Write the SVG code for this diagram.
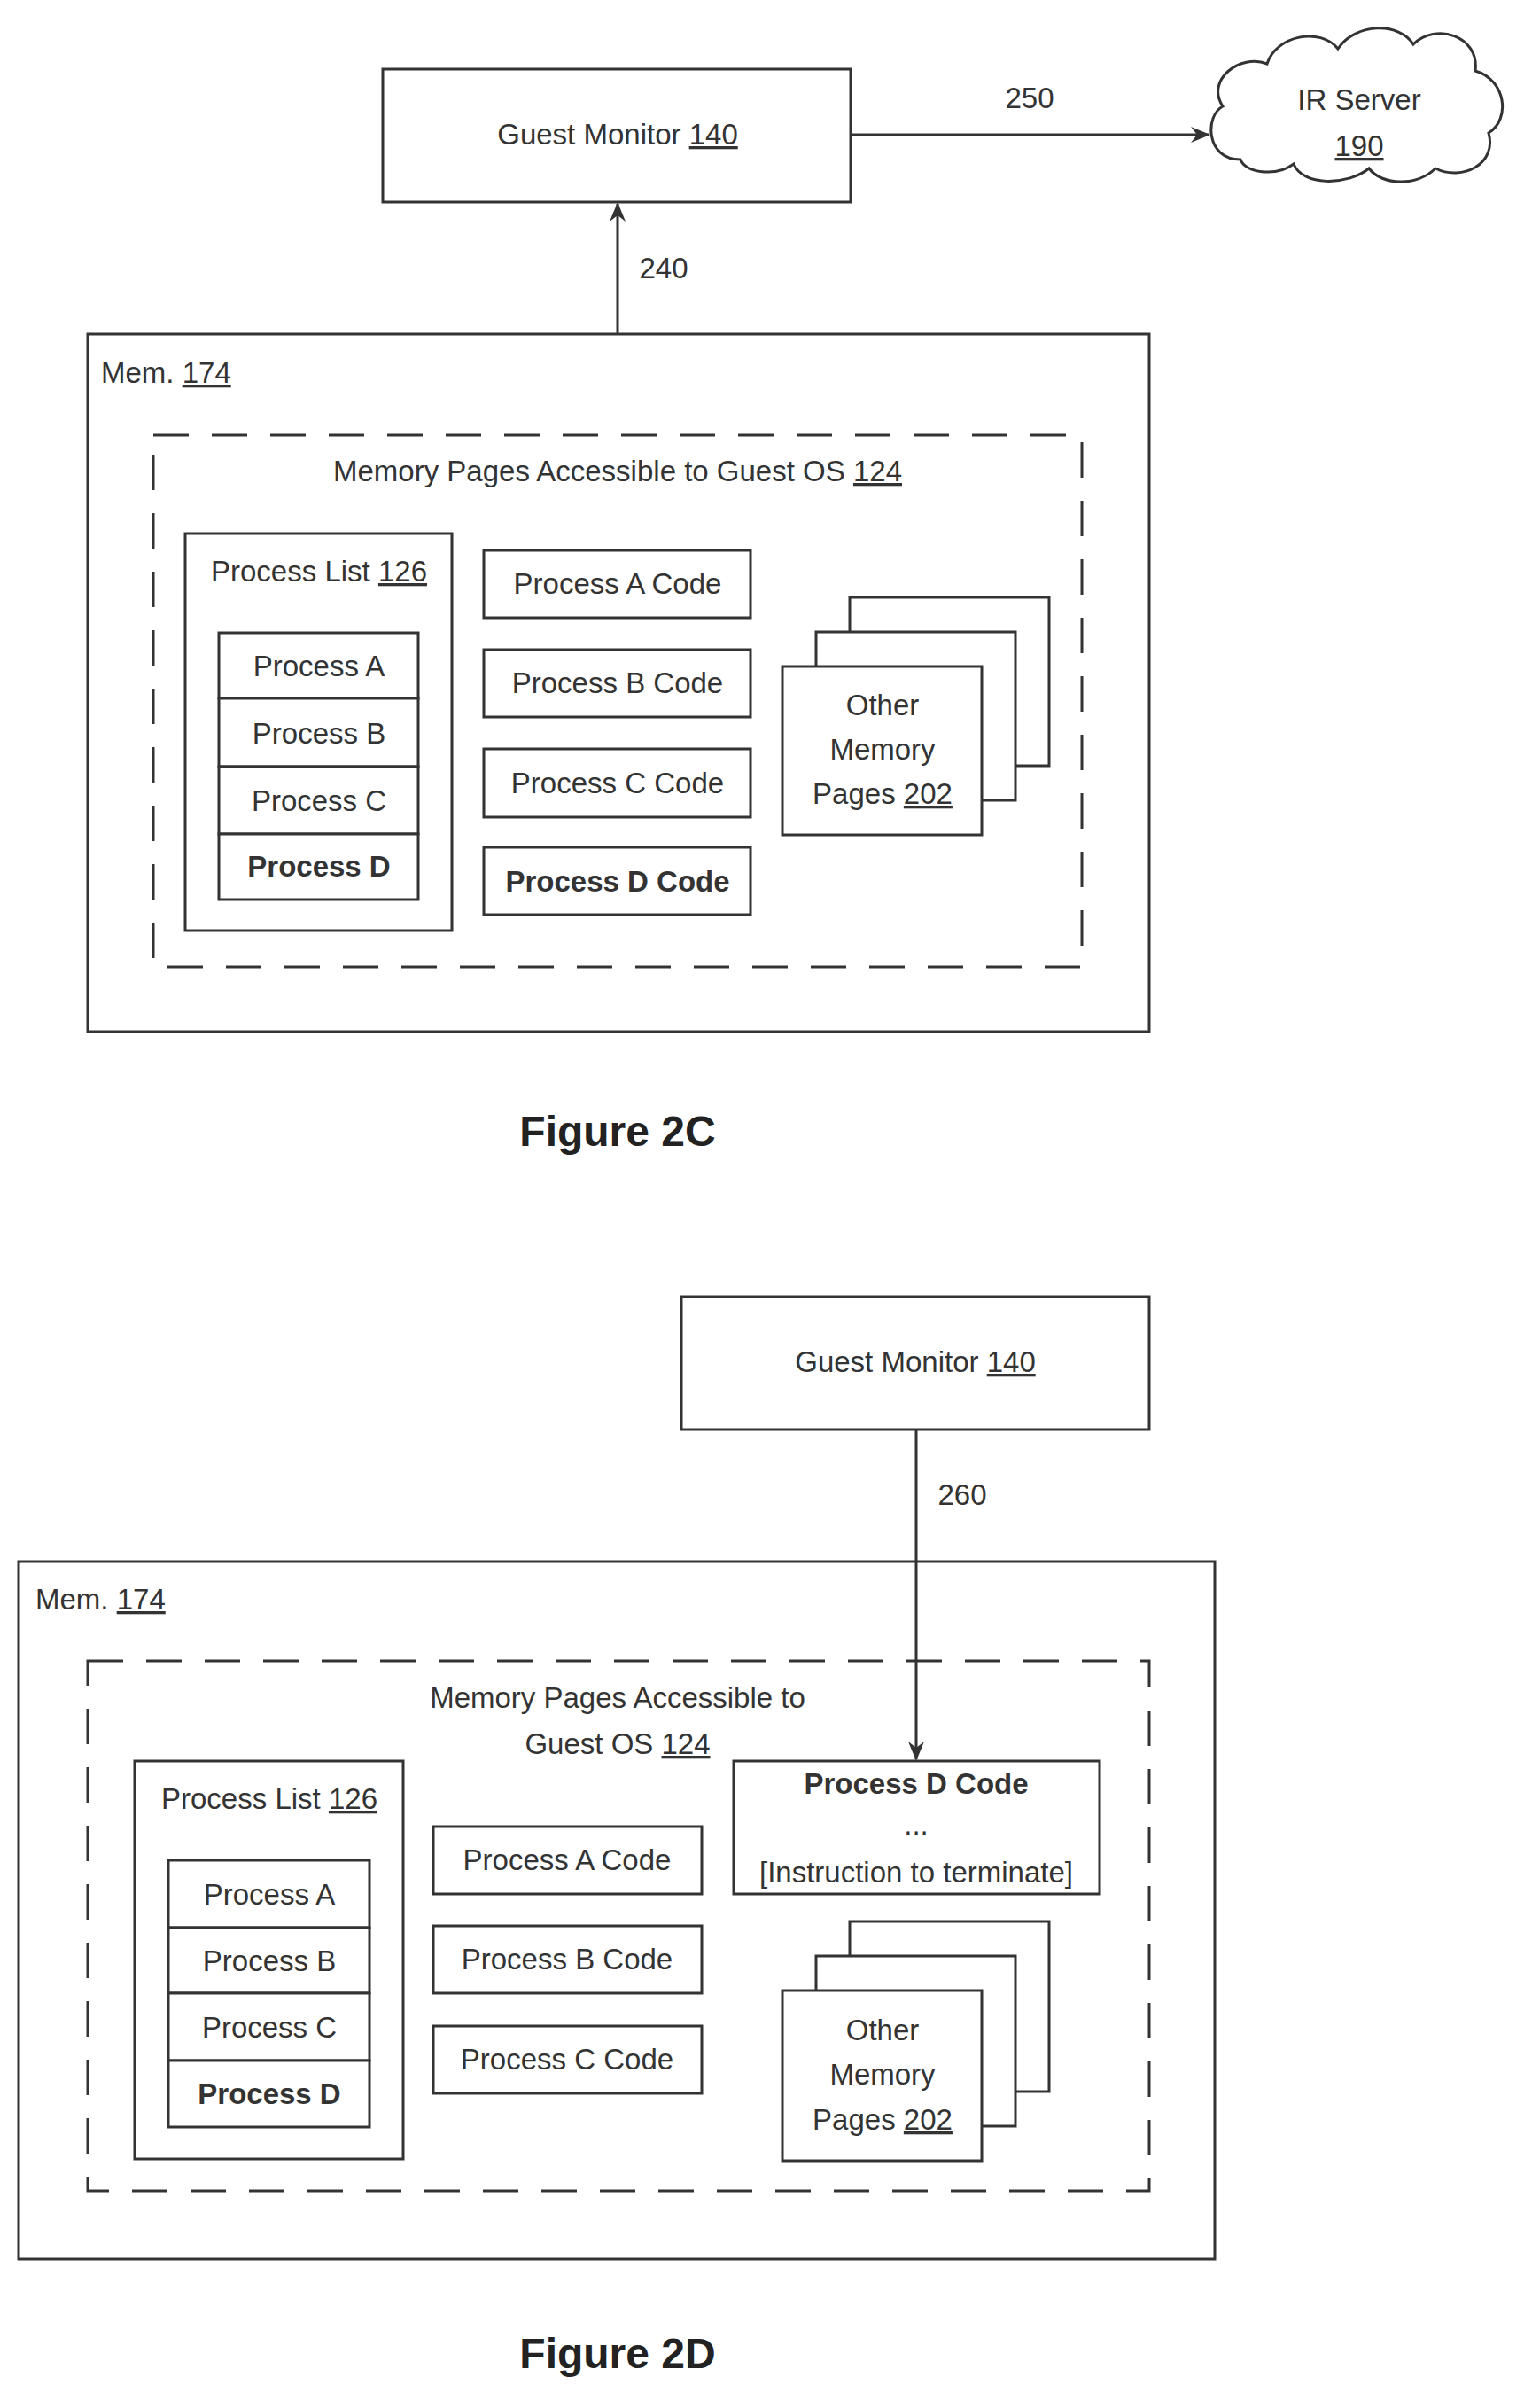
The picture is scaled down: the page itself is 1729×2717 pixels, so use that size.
<svg xmlns="http://www.w3.org/2000/svg" width="1729" height="2717" viewBox="0 0 1729 2717">
<style>
text{font-family:"Liberation Sans",Arial,sans-serif;font-size:33px;fill:#333;text-anchor:middle}
.l{text-anchor:start}
.b{font-weight:bold}
.u{text-decoration:underline}
.fig{font-size:48px;fill:#222;font-weight:bold}
rect,path.c{fill:#fff;stroke:#333;stroke-width:3}
.d{fill:none;stroke:#333;stroke-width:3;stroke-dasharray:40 26}
.e{stroke:#333;stroke-width:3;fill:none}
</style>
<defs>
<marker id="ah" markerWidth="24" markerHeight="20" refX="20" refY="10" orient="auto" markerUnits="userSpaceOnUse"><path d="M0,1 L22,10 L0,19 L7,10 Z" fill="#333"/></marker>
</defs>
<!-- Figure 2C -->
<g id="gm1"><rect x="432" y="78" width="528" height="150"/><text x="697" y="163">Guest Monitor <tspan class="u">140</tspan></text></g>
<g id="ir"><path class="c" d="M1400,180 C1360,180 1360,130 1380,120 C1360,90 1400,60 1430,72 C1440,40 1490,30 1510,55 C1530,25 1580,25 1595,50 C1620,25 1670,40 1665,80 C1700,90 1705,135 1680,150 C1690,185 1650,205 1620,190 C1600,210 1560,210 1545,190 C1520,210 1470,210 1460,185 C1440,200 1405,195 1400,180 Z"/><text x="1534" y="124">IR Server</text><text x="1534" y="176" class="u">190</text></g>
<g id="mem1"><rect x="99" y="377" width="1198" height="787"/><text class="l" x="114" y="432">Mem. <tspan class="u">174</tspan></text></g>
<g id="pages1"><rect class="d" x="173" y="491" width="1048" height="600" style="fill:none"/><text x="697" y="543">Memory Pages Accessible to Guest OS <tspan class="u">124</tspan></text></g>
<g id="pl1"><rect x="209" y="602" width="301" height="448"/><text x="360" y="656">Process List <tspan class="u">126</tspan></text>
<rect x="247" y="714" width="225" height="74"/><text x="360" y="763">Process A</text>
<rect x="247" y="788" width="225" height="77"/><text x="360" y="839">Process B</text>
<rect x="247" y="865" width="225" height="76"/><text x="360" y="915">Process C</text>
<rect x="247" y="941" width="225" height="74"/><text x="360" y="989" class="b">Process D</text></g>
<g id="code1">
<rect x="546" y="621" width="301" height="76"/><text x="697" y="670">Process A Code</text>
<rect x="546" y="733" width="301" height="76"/><text x="697" y="782">Process B Code</text>
<rect x="546" y="845" width="301" height="77"/><text x="697" y="895">Process C Code</text>
<rect x="546" y="956" width="301" height="76"/><text x="697" y="1006" class="b">Process D Code</text></g>
<g id="omp1"><rect x="959" y="674" width="225" height="190"/><rect x="921" y="713" width="225" height="190"/><rect x="883" y="752" width="225" height="190"/>
<text x="996" y="807">Other</text><text x="996" y="857">Memory</text><text x="996" y="907">Pages <tspan class="u">202</tspan></text></g>
<text x="697" y="1293" class="fig">Figure 2C</text>
<!-- Figure 2D -->
<g id="gm2"><rect x="769" y="1463" width="528" height="150"/><text x="1033" y="1548">Guest Monitor <tspan class="u">140</tspan></text></g>
<g id="mem2"><rect x="21" y="1762" width="1350" height="787"/><text class="l" x="40" y="1816">Mem. <tspan class="u">174</tspan></text></g>
<g id="pages2"><rect class="d" x="99" y="1874" width="1198" height="598" style="fill:none"/><text x="697" y="1927">Memory Pages Accessible to</text><text x="697" y="1979">Guest OS <tspan class="u">124</tspan></text></g>
<g id="pl2"><rect x="152" y="1987" width="303" height="449"/><text x="304" y="2041">Process List <tspan class="u">126</tspan></text>
<rect x="190" y="2099" width="227" height="76"/><text x="304" y="2149">Process A</text>
<rect x="190" y="2175" width="227" height="74"/><text x="304" y="2224">Process B</text>
<rect x="190" y="2249" width="227" height="76"/><text x="304" y="2299">Process C</text>
<rect x="190" y="2325" width="227" height="75"/><text x="304" y="2374" class="b">Process D</text></g>
<g id="code2">
<rect x="489" y="2061" width="303" height="76"/><text x="640" y="2110">Process A Code</text>
<rect x="489" y="2173" width="303" height="76"/><text x="640" y="2222">Process B Code</text>
<rect x="489" y="2286" width="303" height="76"/><text x="640" y="2335">Process C Code</text></g>
<g id="pdc2"><rect x="828" y="1987" width="413" height="150"/><text x="1034" y="2024" class="b">Process D Code</text><text x="1034" y="2070">...</text><text x="1034" y="2124">[Instruction to terminate]</text></g>
<g id="omp2"><rect x="959" y="2168" width="225" height="192"/><rect x="921" y="2207" width="225" height="192"/><rect x="883" y="2246" width="225" height="192"/>
<text x="996" y="2302">Other</text><text x="996" y="2352">Memory</text><text x="996" y="2403">Pages <tspan class="u">202</tspan></text></g>
<text x="697" y="2672" class="fig">Figure 2D</text>
<g id="connectors">
<line class="e" x1="960" y1="152" x2="1364" y2="152" marker-end="url(#ah)"/>
<text x="1162" y="122">250</text>
<line class="e" x1="697" y1="377" x2="697" y2="230" marker-end="url(#ah)"/>
<text x="749" y="314">240</text>
<line class="e" x1="1034" y1="1613" x2="1034" y2="1985" marker-end="url(#ah)"/>
<text x="1086" y="1698">260</text>
</g>
</svg>
